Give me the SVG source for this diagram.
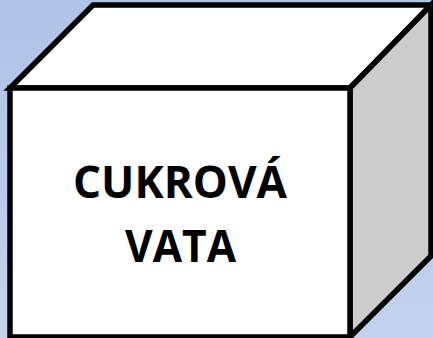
<svg xmlns="http://www.w3.org/2000/svg" width="433" height="338" viewBox="0 0 433 338">
<defs>
<linearGradient id="bg" x1="0" y1="0" x2="0" y2="1">
<stop offset="0" stop-color="#afc3e8"/>
<stop offset="1" stop-color="#c3d2ee"/>
</linearGradient>
<style>
.edge{stroke:#000;stroke-width:5.5;stroke-linejoin:miter}
.lbl{font-family:"Open Sans","Liberation Sans",Arial,sans-serif;font-weight:bold;font-size:44px;fill:#000;text-anchor:middle}
</style>
</defs>
<rect x="0" y="0" width="433" height="338" fill="url(#bg)"/>
<g id="cube">
<polygon class="edge" points="10,88 93,5 431,5 350,88" fill="#ffffff"/>
<polygon class="edge" points="350,88 431,5 431,256 350,337" fill="#cccccc"/>
<rect class="edge" x="10" y="88" width="340" height="249" fill="#ffffff"/>
<text class="lbl" x="180" y="198" textLength="214" lengthAdjust="spacingAndGlyphs">CUKROVÁ</text>
<text class="lbl" x="180.5" y="262" textLength="111" lengthAdjust="spacingAndGlyphs">VATA</text>
</g>
</svg>
